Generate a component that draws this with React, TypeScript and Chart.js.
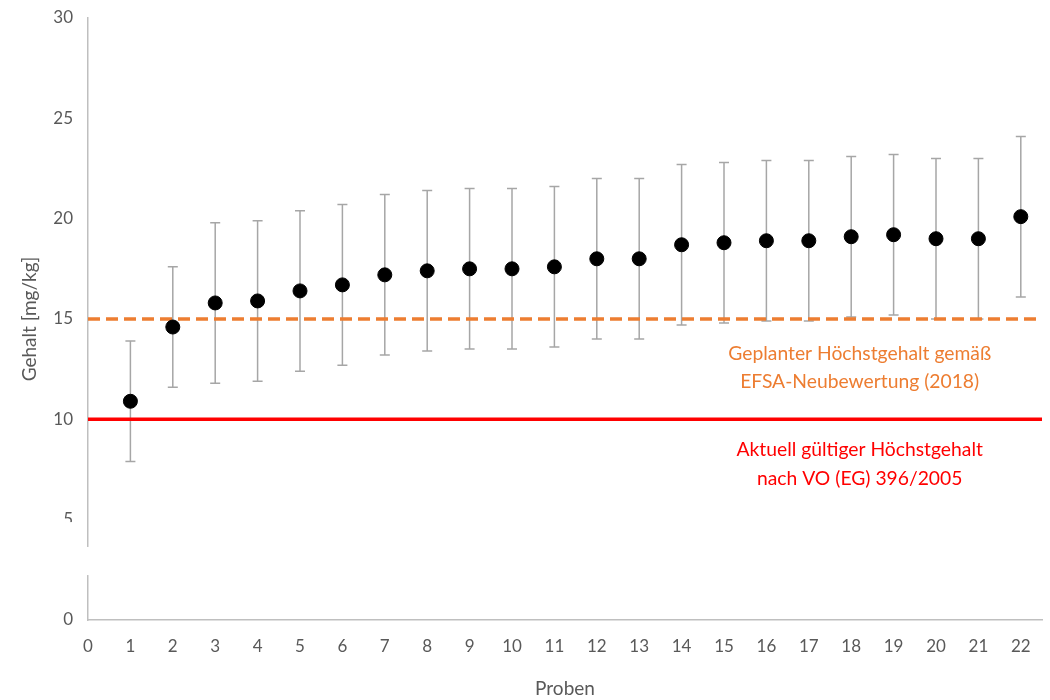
import React, { useEffect, useRef } from "react";
import { Chart, registerables } from "chart.js";

Chart.register(...registerables);

const sampleIds = [1, 2, 3, 4, 5, 6, 7, 8, 9, 10, 11, 12, 13, 14, 15, 16, 17, 18, 19, 20, 21, 22];
const contents = [10.9, 14.6, 15.8, 15.9, 16.4, 16.7, 17.2, 17.4, 17.5, 17.5, 17.6, 18.0, 18.0, 18.7, 18.8, 18.9, 18.9, 19.1, 19.2, 19.0, 19.0, 20.1];
const uncertainty = [3, 3, 4, 4, 4, 4, 4, 4, 4, 4, 4, 4, 4, 4, 4, 4, 4, 4, 4, 4, 4, 4];
const plannedLimit = 15;
const currentLimit = 10;
const yTicks = [0, 5, 10, 15, 20, 25, 30];
const xTicks = [0, 1, 2, 3, 4, 5, 6, 7, 8, 9, 10, 11, 12, 13, 14, 15, 16, 17, 18, 19, 20, 21, 22];
const plannedLabel = ["Geplanter Höchstgehalt gemäß", "EFSA-Neubewertung (2018)"];
const currentLabel = ["Aktuell gültiger Höchstgehalt", "nach VO (EG) 396/2005"];

const FONT = "Lato";

const errorBarPlugin = {
  id: "errorBars",
  beforeDatasetsDraw(chart: any) {
    const x = chart.scales.x;
    const y = chart.scales.y;
    const ctx = chart.ctx;
    ctx.save();
    ctx.strokeStyle = "#A6A6A6";
    ctx.lineWidth = 1.5;
    sampleIds.forEach((id, i) => {
      const px = x.getPixelForValue(id);
      const top = y.getPixelForValue(contents[i] + uncertainty[i]);
      const bot = y.getPixelForValue(contents[i] - uncertainty[i]);
      ctx.beginPath();
      ctx.moveTo(px, top);
      ctx.lineTo(px, bot);
      ctx.moveTo(px - 5, top);
      ctx.lineTo(px + 5, top);
      ctx.moveTo(px - 5, bot);
      ctx.lineTo(px + 5, bot);
      ctx.stroke();
    });
    ctx.restore();
  },
};

const annotationPlugin = {
  id: "annotations",
  afterDraw(chart: any) {
    const x = chart.scales.x;
    const y = chart.scales.y;
    const ctx = chart.ctx;
    ctx.save();
    ctx.textAlign = "center";
    ctx.textBaseline = "middle";
    ctx.font = `19.3px ${FONT}`;
    const cx = x.getPixelForValue(18.2);
    ctx.fillStyle = "#ED7D31";
    ctx.fillText(plannedLabel[0], cx, y.getPixelForValue(13.25));
    ctx.fillText(plannedLabel[1], cx, y.getPixelForValue(11.85));
    ctx.fillStyle = "#FF0000";
    ctx.fillText(currentLabel[0], cx, y.getPixelForValue(8.47));
    ctx.fillText(currentLabel[1], cx, y.getPixelForValue(7.03));

    // axis break
    ctx.fillStyle = "#FFFFFF";
    const labTop = y.getPixelForValue(4.88);
    const brTop = y.getPixelForValue(3.64);
    const brBot = y.getPixelForValue(2.24);
    ctx.fillRect(0, labTop, x.left - 2, brBot - labTop);
    ctx.fillRect(x.left - 4, brTop, 8, brBot - brTop);
    ctx.restore();
  },
};

export default function App() {
  const ref = useRef<HTMLCanvasElement | null>(null);

  useEffect(() => {
    if (!ref.current) return;
    const chart = new Chart(ref.current, {
      type: "scatter",
      data: {
        datasets: [
          {
            type: "scatter",
            label: "Proben",
            data: sampleIds.map((id, i) => ({ x: id, y: contents[i] })),
            backgroundColor: "#000000",
            borderColor: "#000000",
            pointRadius: 7,
            pointHoverRadius: 7,
            order: 0,
          },
          {
            type: "line",
            label: "Geplant",
            data: [
              { x: 0, y: plannedLimit },
              { x: 22.5, y: plannedLimit },
            ],
            borderColor: "#ED7D31",
            borderWidth: 3.5,
            borderDash: [12, 6],
            pointRadius: 0,
            order: 1,
          },
          {
            type: "line",
            label: "Aktuell",
            data: [
              { x: 0, y: currentLimit },
              { x: 22.5, y: currentLimit },
            ],
            borderColor: "#FF0000",
            borderWidth: 3.5,
            pointRadius: 0,
            order: 1,
          },
        ],
      },
      options: {
        animation: false,
        responsive: true,
        maintainAspectRatio: false,
        layout: { padding: { top: 18, right: 3, left: 0, bottom: 0 } },
        plugins: {
          legend: { display: false },
          tooltip: { enabled: false },
        },
        scales: {
          x: {
            type: "linear",
            min: 0,
            max: 22.5,
            afterBuildTicks: (s: any) => {
              s.ticks = xTicks.map((v) => ({ value: v }));
            },
            afterFit: (s: any) => {
              s.height = 80;
              s.paddingLeft = 0;
              s.paddingRight = 0;
            },
            grid: { display: false, drawTicks: false },
            border: { color: "#BFBFBF", width: 1.5 },
            ticks: {
              padding: 16,
              color: "#595959",
              font: { family: FONT, size: 17 },
              maxRotation: 0,
              autoSkip: false,
            },
            title: {
              display: true,
              text: "Proben",
              color: "#595959",
              font: { family: FONT, size: 19 },
              padding: { top: 0, bottom: 0 },
            },
          },
          y: {
            type: "linear",
            min: 0,
            max: 30,
            afterBuildTicks: (s: any) => {
              s.ticks = yTicks.map((v) => ({ value: v }));
            },
            afterFit: (s: any) => {
              s.width = 88;
              s.paddingTop = 0;
              s.paddingBottom = 0;
            },
            grid: { display: false, drawTicks: false },
            border: { color: "#BFBFBF", width: 1.5 },
            ticks: {
              padding: 15,
              color: "#595959",
              font: { family: FONT, size: 17 },
            },
            title: {
              display: true,
              text: "Gehalt [mg/kg]",
              color: "#595959",
              font: { family: FONT, size: 19 },
              padding: { top: 18, bottom: 0 },
            },
          },
        },
      },
      plugins: [errorBarPlugin, annotationPlugin],
    });
    return () => chart.destroy();
  }, []);

  return (
    <div style={{ position: "absolute", left: 0, top: 0, width: 1050, height: 700 }}>
      <canvas ref={ref} />
    </div>
  );
}
